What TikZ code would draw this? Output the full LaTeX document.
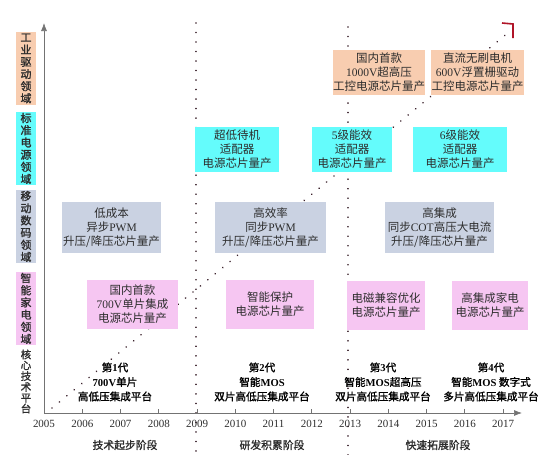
\documentclass[tikz,border=0pt]{standalone}
\usepackage{fontspec}
\setmainfont{Liberation Serif}
\newfontfamily\cjk[AutoFakeBold=1.5]{Noto Sans CJK SC}
\newcommand\Lat[1]{{\rmfamily #1}}
\usetikzlibrary{arrows.meta}
\definecolor{cOrange}{RGB}{248,205,176}
\definecolor{cCyan}{RGB}{100,252,252}
\definecolor{cGray}{RGB}{202,210,226}
\definecolor{cPink}{RGB}{246,198,242}
\definecolor{cText}{RGB}{45,45,45}
\definecolor{cDot}{RGB}{60,35,45}
\definecolor{cRed}{RGB}{176,20,40}
\begin{document}
\begin{tikzpicture}[x=1pt,y=-1pt,
  evbox/.style={inner sep=0pt, align=center, text=cText,
    font=\cjk\fontsize{11.5}{14}\selectfont},
  orangebox/.style={evbox, fill=cOrange},
  cyanbox/.style={evbox, fill=cCyan},
  graybox/.style={evbox, fill=cGray},
  pinkbox/.style={evbox, fill=cPink},
  sidelabel/.style={inner sep=0pt, minimum width=20pt, align=center, text=cText,
    font=\cjk\bfseries\fontsize{11}{12.2}\selectfont},
  platform/.style={align=center, inner sep=0pt, text=black,
    font=\cjk\bfseries\fontsize{10.6}{14.5}\selectfont},
  yearlab/.style={font=\rmfamily\fontsize{11}{12}\selectfont, text=cText, inner sep=0pt},
  stagelab/.style={font=\cjk\bfseries\fontsize{10.8}{13}\selectfont, text=cText, inner sep=0pt},
  vdots/.style={draw=cDot, line width=1.7pt, dash pattern=on 0.01pt off 9.5pt, line cap=round},
  trend/.style={draw=cDot, line width=1.8pt, dash pattern=on 0.01pt off 9.6pt, line cap=round},
  axisline/.style={draw=gray!90!black, line width=0.7pt}
]
\useasboundingbox (0,0) rectangle (550,455);

% coordinates
\coordinate (origin) at (44,413);
\coordinate (yend) at (44,23);
\coordinate (xend) at (522,413);
\coordinate (tstart) at (52,408);
\coordinate (tend) at (509,32);
\coordinate (r1) at (502,23);
\coordinate (r2) at (513,24);
\coordinate (r3) at (513,38);
\coordinate (v1t) at (196,23);
\coordinate (v1b) at (196,455);
\coordinate (v2t) at (348,27);
\coordinate (v2b) at (348,455);

% dotted lines (behind boxes)
\draw[vdots] (v1t) -- (v1b);
\draw[vdots] (v2t) -- (v2b);
\draw[trend] (tstart) -- (tend);
\draw[cRed, line width=1.6pt, line join=miter] (r1) -- (r2) -- (r3);

% axes
\draw[axisline, -{Latex[length=8pt,width=6pt]}] (origin) -- (yend);
\draw[axisline, -{Latex[length=8pt,width=6pt]}] (origin) -- (xend);

% year ticks and labels
\foreach \i in {0,...,12} {
  \pgfmathsetmacro{\xx}{44+38.25*\i}
  \pgfmathtruncatemacro{\yr}{2005+\i}
  \ifnum\i>0 \draw[axisline] (\xx,413) -- (\xx,409); \fi
  \node[yearlab] (yr\i) at (\xx,423.5) {\yr};
}

% stage labels
\node[stagelab] (s1) at (125,445) {技术起步阶段};
\node[stagelab] (s2) at (272,445) {研发积累阶段};
\node[stagelab] (s3) at (438,445) {快速拓展阶段};

% side labels
\node[sidelabel, fill=cOrange, minimum height=73pt] (l1) at (26,68.5) {工\\业\\驱\\动\\领\\域};
\node[sidelabel, fill=cCyan, minimum height=73pt] (l2) at (26,148.5) {标\\准\\电\\源\\领\\域};
\node[sidelabel, fill=cGray, minimum height=73pt] (l3) at (26,226.5) {移\\动\\数\\码\\领\\域};
\node[sidelabel, fill=cPink, minimum height=73pt] (l4) at (26,308.5) {智\\能\\家\\电\\领\\域};
\node[sidelabel, font=\cjk\bfseries\fontsize{10.5}{10.8}\selectfont] (l5) at (26,381.5) {核\\心\\技\\术\\平\\台};

% orange row
\node[orangebox, minimum width=92pt, minimum height=45pt] (o1) at (379,72.5)
  {国内首款\\\Lat{1000V}超高压\\工控电源芯片量产};
\node[orangebox, minimum width=93pt, minimum height=45pt] (o2) at (477.5,72.5)
  {直流无刷电机\\\Lat{600V}浮置栅驱动\\工控电源芯片量产};

% cyan row
\node[cyanbox, minimum width=84pt, minimum height=45pt] (c1) at (237,149.5)
  {超低待机\\适配器\\电源芯片量产};
\node[cyanbox, minimum width=80pt, minimum height=45pt] (c2) at (352,149.5)
  {\Lat{5}级能效\\适配器\\电源芯片量产};
\node[cyanbox, minimum width=94pt, minimum height=45pt] (c3) at (460,149.5)
  {\Lat{6}级能效\\适配器\\电源芯片量产};

% gray row
\node[graybox, minimum width=99pt, minimum height=51pt] (g1) at (111.5,227.5)
  {低成本\\异步\Lat{PWM}\\升压/降压芯片量产};
\node[graybox, minimum width=111pt, minimum height=51pt] (g2) at (270.5,227.5)
  {高效率\\同步\Lat{PWM}\\升压/降压芯片量产};
\node[graybox, minimum width=109pt, minimum height=51pt] (g3) at (439.5,227.5)
  {高集成\\同步\Lat{COT}高压大电流\\升压/降压芯片量产};

% pink row
\node[pinkbox, minimum width=91pt, minimum height=49pt] (p1) at (132.5,304.5)
  {国内首款\\\Lat{700V}单片集成\\电源芯片量产};
\node[pinkbox, minimum width=88pt, minimum height=49pt] (p2) at (270,304.5)
  {智能保护\\电源芯片量产};
\node[pinkbox, minimum width=78pt, minimum height=49pt] (p3) at (386,305)
  {电磁兼容优化\\电源芯片量产};
\node[pinkbox, minimum width=76pt, minimum height=49pt] (p4) at (490,305)
  {高集成家电\\电源芯片量产};

% platforms
\node[platform] (t1) at (115,382) {第\Lat{\bfseries 1}代\\\Lat{\bfseries 700V}单片\\高低压集成平台};
\node[platform] (t2) at (262,382) {第\Lat{\bfseries 2}代\\智能\Lat{\bfseries MOS}\\双片高低压集成平台};
\node[platform] (t3) at (383,382) {第\Lat{\bfseries 3}代\\智能\Lat{\bfseries MOS}超高压\\双片高低压集成平台};
\node[platform] (t4) at (491,382) {第\Lat{\bfseries 4}代\\智能\Lat{\bfseries MOS} 数字式\\多片高低压集成平台};
\end{tikzpicture}
\end{document}
